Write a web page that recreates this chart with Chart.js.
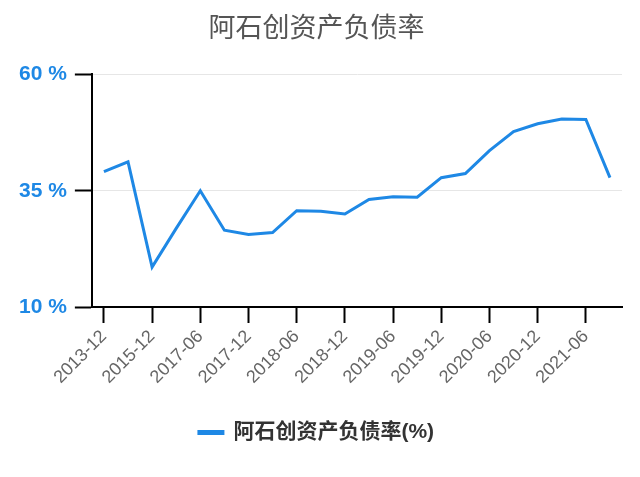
<!DOCTYPE html>
<html lang="zh">
<head>
    <meta charset="UTF-8">
    <title>阿石创资产负债率</title>
    <script src="https://cdn.jsdelivr.net/npm/chart.js"></script>
    <style>
        html, body {
            margin: 0;
            padding: 0;
            background-color: white;
        }
        .chart-container {
            width: 640px;
            height: 477px;
        }
    </style>
</head>
<body>
    <div class="chart-container">
        <canvas id="debtChart"></canvas>
    </div>

    <script>
        // Reporting periods
        const periods = [
            '2013-12', '2014-12', '2015-12', '2016-12', '2017-06', '2017-09',
            '2017-12', '2018-03', '2018-06', '2018-09', '2018-12', '2019-03',
            '2019-06', '2019-09', '2019-12', '2020-03', '2020-06', '2020-09',
            '2020-12', '2021-03', '2021-06', '2021-09'
        ];

        // Debt-to-asset ratio (%)
        const debtRatio = [
            39.1, 41.2, 18.6, 26.9, 35.0, 26.5,
            25.6, 26.0, 30.7, 30.6, 30.0, 33.1,
            33.7, 33.6, 37.8, 38.7, 43.6, 47.7,
            49.4, 50.4, 50.3, 37.8
        ];

        const yTicks = [10, 35, 60];

        const blue = 'rgb(30, 136, 229)';
        const fontFamily = 'Arial, "Liberation Sans", "Noto Sans CJK SC", sans-serif';

        new Chart(document.getElementById('debtChart'), {
            type: 'line',
            data: {
                labels: periods,
                datasets: [{
                    label: '阿石创资产负债率(%)',
                    data: debtRatio,
                    borderColor: blue,
                    backgroundColor: blue,
                    borderWidth: 3,
                    pointRadius: 0,
                    tension: 0
                }]
            },
            options: {
                responsive: true,
                maintainAspectRatio: false,
                animation: false,
                layout: {
                    padding: { left: 11, right: 18, top: 4, bottom: 24 }
                },
                plugins: {
                    title: {
                        display: true,
                        text: '阿石创资产负债率',
                        color: '#555',
                        font: { family: fontFamily, size: 27, weight: 'normal' },
                        padding: { top: 9, bottom: 29 }
                    },
                    legend: {
                        position: 'bottom',
                        labels: {
                            color: '#333',
                            boxWidth: 24,
                            boxHeight: 2,
                            padding: 10,
                            font: { family: fontFamily, size: 21, weight: 'bold' }
                        }
                    },
                    tooltip: { enabled: false }
                },
                scales: {
                    x: {
                        offset: true,
                        afterFit: (axis) => { axis.height += 21; },
                        grid: {
                            drawOnChartArea: false,
                            tickColor: '#000',
                            tickLength: 16,
                            tickWidth: 2
                        },
                        border: { color: '#000', width: 2 },
                        ticks: {
                            color: '#666',
                            maxTicksLimit: 11,
                            maxRotation: 45,
                            minRotation: 45,
                            font: { family: fontFamily, size: 18 }
                        }
                    },
                    y: {
                        min: yTicks[0],
                        max: yTicks[yTicks.length - 1],
                        afterBuildTicks: (axis) => {
                            axis.ticks = yTicks.map(v => ({ value: v }));
                        },
                        grid: {
                            color: '#e6e6e6',
                            tickColor: '#000',
                            tickLength: 17,
                            tickWidth: 2
                        },
                        border: { color: '#000', width: 2 },
                        ticks: {
                            color: blue,
                            padding: 8,
                            font: { family: fontFamily, size: 21, weight: 'bold' },
                            callback: (v) => v + ' %'
                        }
                    }
                }
            }
        });
    </script>
</body>
</html>
